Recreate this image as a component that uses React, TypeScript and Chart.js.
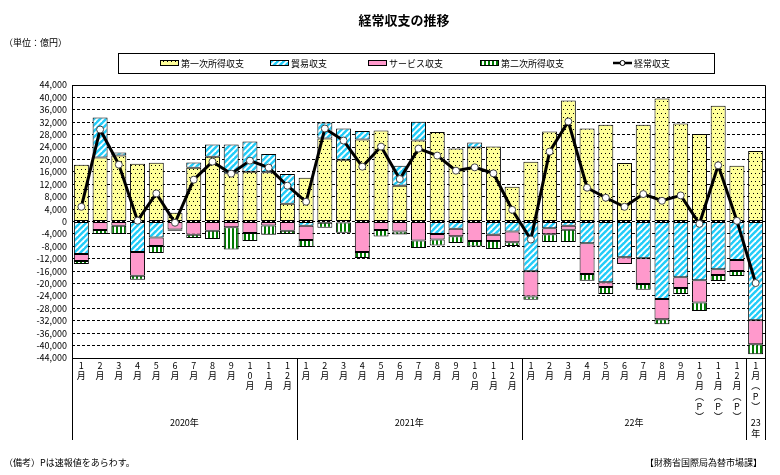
import React, { useEffect, useRef } from "react";
import { Chart, registerables } from "chart.js";

Chart.register(...registerables);

// ---------- data (億円) ----------
const monthLabels = [
  "1月", "2月", "3月", "4月", "5月", "6月", "7月", "8月", "9月", "10月", "11月", "12月",
  "1月", "2月", "3月", "4月", "5月", "6月", "7月", "8月", "9月", "10月", "11月", "12月",
  "1月", "2月", "3月", "4月", "5月", "6月", "7月", "8月", "9月", "10月(P)", "11月(P)", "12月(P)",
  "1月(P)",
];
const yearLabels = ["2020年", "2021年", "22年", "23年"];
const yearCounts = [12, 12, 12, 1];

const primaryIncome = [
  18330, 20590, 21240, 18650, 18970, 2800, 17360, 20910, 15520, 16060, 15850, 5710,
  14120, 26730, 19940, 26410, 29320, 11530, 26090, 28890, 23500, 23820, 24150, 11210,
  19300, 29000, 39020, 29970, 31150, 18870, 31150, 39670, 31590, 28240, 37300, 18000,
  22750,
];
const tradeBalance = [
  -10460, 12940, 970, -9810, -5170, null, 1620, 3880, 9270, 9700, 5930, 9590,
  -1400, 5170, 10030, 2800, null, 6470, 6040, -3990, -2370, 1620, -4310, -3230,
  -16060, -2160, -1400, -7010, -19620, -11530, -11860, -25010, -18000, -18970, -15420, -12400,
  -31800,
];
const servicesBalance = [
  -2260, -2700, -1400, -7650, -2700, -2600, -4310, -3020, -1830, -3670, -1290, -3020,
  -4530, -400, -320, -9810, -2700, -3230, -6140, -1830, -2370, -6250, -1940, -3450,
  -8090, -1940, -1290, -9920, -1510, -2160, -8300, -6470, -3450, -7120, -1830, -3560,
  -7760,
];
const secondaryIncome = [
  -970, -1290, -2590, -1290, -2260, -400, -970, -2590, -7220, -2590, -3020, -970,
  -2260, -1620, -3340, -1940, -2160, -970, -2370, -1940, -2160, -1830, -2590, -1190,
  -1080, -2480, -3880, -2160, -2260, null, -1830, -1620, -1940, -2800, -1940, -1620,
  -3230,
];
const currentAccount = [
  4740, 29650, 18330, 260, 9060, -400, 13480, 19300, 15420, 19620, 17360, 11530,
  6360, 29970, 26090, 17680, 24150, 13690, 23500, 21240, 16390, 17460, 15520, 3770,
  -5820, 22530, 32230, 10890, 7650, 4740, 8840, 6680, 8410, -750, 18110, 220,
  -19840,
];

const seriesNames = ["第一次所得収支", "貿易収支", "サービス収支", "第二次所得収支", "経常収支"];

const FONT = "'Noto Sans CJK JP', 'Noto Sans', sans-serif";

function toVertical(label: string): string[] {
  return label.split("").map((c) => (c === "(" ? "︵" : c === ")" ? "︶" : c));
}

function makePatterns(ctx: CanvasRenderingContext2D) {
  const mk = (w: number, h: number, draw: (g: CanvasRenderingContext2D) => void) => {
    const c = document.createElement("canvas");
    c.width = w;
    c.height = h;
    const g = c.getContext("2d")!;
    draw(g);
    return ctx.createPattern(c, "repeat")!;
  };
  const yellow = mk(4, 8, (g) => {
    g.fillStyle = "#FFFF99";
    g.fillRect(0, 0, 4, 8);
    g.fillStyle = "#000";
    g.fillRect(1, 1, 1, 1);
    g.fillRect(3, 5, 1, 1);
  });
  const cyan = mk(6, 6, (g) => {
    g.fillStyle = "#22CCF8";
    g.fillRect(0, 0, 6, 6);
    g.strokeStyle = "#fff";
    g.lineWidth = 1.8;
    for (const o of [-6, 0, 6]) {
      g.beginPath();
      g.moveTo(o - 1, 7);
      g.lineTo(o + 7, -1);
      g.stroke();
    }
  });
  const green = mk(4, 1, (g) => {
    g.fillStyle = "#fff";
    g.fillRect(0, 0, 4, 1);
    g.fillStyle = "#007A00";
    g.fillRect(0, 0, 2, 1);
  });
  return { yellow, cyan, pink: "#FF99CC", green };
}

export default function App() {
  const ref = useRef<HTMLCanvasElement | null>(null);

  useEffect(() => {
    const canvas = ref.current!;
    const ctx = canvas.getContext("2d")!;
    const pats = makePatterns(ctx);

    const decorPlugin = {
      id: "decor",
      afterDraw(chart: any) {
        const c = chart.ctx as CanvasRenderingContext2D;
        const area = chart.chartArea;
        const xs = chart.scales.x;
        c.save();
        // frame
        c.strokeStyle = "#000";
        c.lineWidth = 1;
        c.setLineDash([]);
        const L = Math.round(area.left) + 0.5;
        const R = Math.round(area.right) + 0.5;
        const T = Math.round(area.top) + 0.5;
        const B = Math.round(area.bottom) + 0.5;
        const sepBottom = 440;
        c.beginPath();
        c.moveTo(L, T);
        c.lineTo(R, T);
        c.moveTo(L, B);
        c.lineTo(R, B);
        c.moveTo(L, T);
        c.lineTo(L, sepBottom);
        c.moveTo(R, T);
        c.lineTo(R, sepBottom);
        c.stroke();

        // year separators & labels
        c.fillStyle = "#000";
        c.font = `9px ${FONT}`;
        c.textAlign = "center";
        c.textBaseline = "middle";
        let start = 0;
        yearCounts.forEach((n, i) => {
          const end = start + n - 1;
          const cx = (xs.getPixelForValue(start) + xs.getPixelForValue(end)) / 2;
          const lab = yearLabels[i];
          if (n === 1) {
            c.fillText(lab.slice(0, -1), cx, 423);
            c.fillText(lab.slice(-1), cx, 434);
          } else {
            c.fillText(lab, cx, 423);
          }
          if (i > 0) {
            const sx = Math.round((xs.getPixelForValue(start - 1) + xs.getPixelForValue(start)) / 2) + 0.5;
            c.beginPath();
            c.moveTo(sx, B);
            c.lineTo(sx, sepBottom);
            c.stroke();
          }
          start += n;
        });

        // title
        c.font = `bold 13px ${FONT}`;
        c.fillText("経常収支の推移", 404, 20);
        c.font = `9px ${FONT}`;
        c.textAlign = "left";
        c.fillText("（単位：億円）", 4, 43);
        c.fillText("（備考）Pは速報値をあらわす。", 4, 463);
        c.textAlign = "right";
        c.fillText("【財務省国際局為替市場課】", 762, 463);

        // legend
        c.strokeRect(118.5, 53.5, 596, 20);
        const ly = 63;
        const swX = [160, 270, 368, 480, 613];
        const fills: any[] = [pats.yellow, pats.cyan, pats.pink, pats.green];
        c.textAlign = "left";
        seriesNames.forEach((name, i) => {
          const x = swX[i];
          if (i < 4) {
            c.fillStyle = fills[i];
            c.fillRect(x, ly - 3, 19, 6);
            c.strokeStyle = "#000";
            c.lineWidth = 1;
            c.strokeRect(x + 0.5, ly - 2.5, 18, 5);
          } else {
            c.strokeStyle = "#000";
            c.lineWidth = 2.5;
            c.beginPath();
            c.moveTo(x, ly);
            c.lineTo(x + 19, ly);
            c.stroke();
            c.fillStyle = "#fff";
            c.lineWidth = 1;
            c.beginPath();
            c.arc(x + 9.5, ly, 2.5, 0, Math.PI * 2);
            c.fill();
            c.stroke();
          }
          c.fillStyle = "#000";
          c.fillText(name, x + 21, ly + 0.5);
        });
        c.restore();
      },
    };

    const barCommon = {
      type: "bar" as const,
      stack: "bars",
      borderColor: "#000",
      borderWidth: 1,
      borderSkipped: false as any,
      barPercentage: 0.8,
      categoryPercentage: 1,
      order: 1,
    };

    const chart = new Chart(ctx, {
      type: "bar",
      data: {
        labels: monthLabels.map(toVertical),
        datasets: [
          { ...barCommon, label: seriesNames[0], data: primaryIncome, backgroundColor: pats.yellow },
          { ...barCommon, label: seriesNames[1], data: tradeBalance, backgroundColor: pats.cyan },
          { ...barCommon, label: seriesNames[2], data: servicesBalance, backgroundColor: pats.pink },
          { ...barCommon, label: seriesNames[3], data: secondaryIncome, backgroundColor: pats.green },
          {
            type: "line",
            label: seriesNames[4],
            data: currentAccount,
            stack: "line",
            borderColor: "#000",
            borderWidth: 3,
            pointRadius: 3.5,
            pointBackgroundColor: "#fff",
            pointBorderColor: "#444",
            pointBorderWidth: 1,
            order: 0,
          } as any,
        ],
      },
      options: {
        responsive: false,
        animation: false,
        layout: { padding: { top: 85, right: 15, left: 0, bottom: 0 } },
        plugins: { legend: { display: false }, tooltip: { enabled: false }, title: { display: false } },
        scales: {
          x: {
            stacked: true,
            grid: { display: false, drawTicks: false },
            border: { display: false },
            ticks: {
              color: "#000",
              autoSkip: false,
              maxRotation: 0,
              minRotation: 0,
              padding: 2,
              font: { family: FONT, size: 9, lineHeight: 1.15 },
            },
            afterFit: (s: any) => {
              s.height = 117;
            },
          },
          y: {
            stacked: true,
            min: -44000,
            max: 44000,
            ticks: {
              stepSize: 4000,
              autoSkip: false,
              color: "#000",
              padding: 5,
              font: { family: FONT, size: 9 },
              callback: (v: any) => Number(v).toLocaleString("en-US"),
            },
            grid: { color: "#000", lineWidth: 1, drawTicks: false },
            border: { display: false, dash: [3, 2] },
            afterFit: (s: any) => {
              s.width = 72;
            },
          },
        },
      },
      plugins: [decorPlugin],
    });
    return () => chart.destroy();
  }, []);

  return (
    <div style={{ position: "fixed", left: 0, top: 0, width: 780, height: 475, background: "#fff" }}>
      <canvas ref={ref} width={780} height={475} style={{ display: "block" }} />
    </div>
  );
}
